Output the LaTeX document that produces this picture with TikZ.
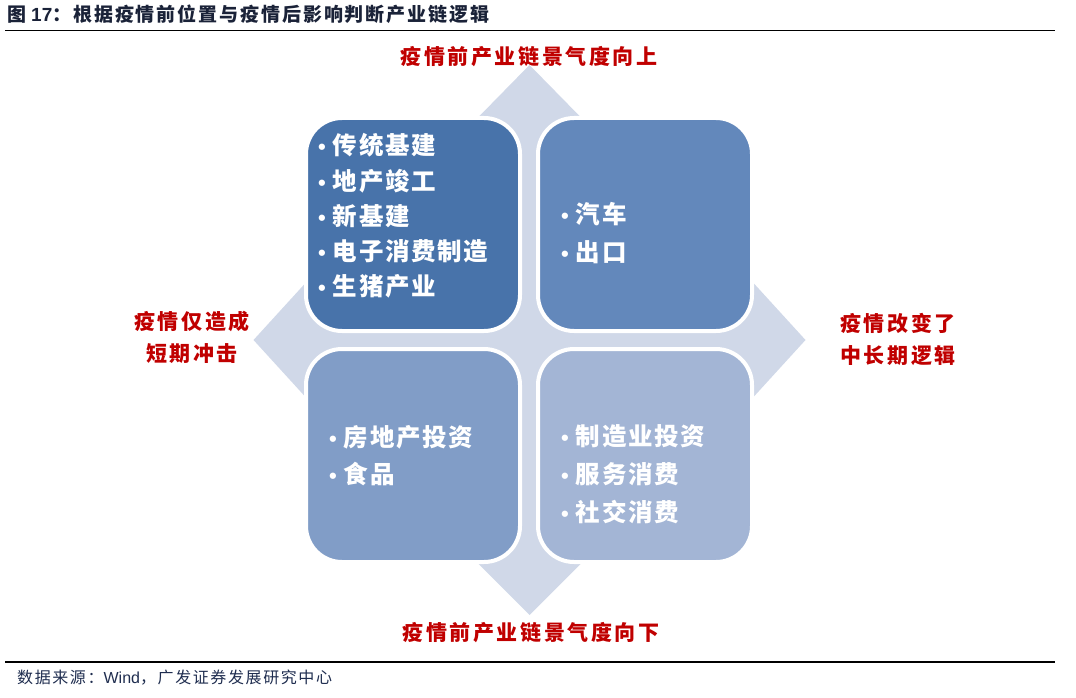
\documentclass[tikz,border=0pt]{standalone}
\usepackage{fontspec}
\setmainfont{Liberation Sans}
\newfontfamily\cjk{Noto Sans CJK SC}
\newfontfamily\cjktitle[LetterSpace=10]{Noto Sans CJK SC}
\newfontfamily\cjklab[LetterSpace=12]{Noto Sans CJK SC}
\newfontfamily\cjkbox[LetterSpace=7]{Noto Sans CJK SC}
\newfontfamily\cjkfoot[LetterSpace=10]{Noto Sans CJK SC}
\newfontfamily\bulfont{Liberation Sans}
\newcommand\bul{{\bulfont\fontsize{22}{22}\selectfont\textbullet}\hspace{7pt}}
\definecolor{bgarrow}{HTML}{D0D8E8}
\definecolor{boxA}{HTML}{4873AA}
\definecolor{boxB}{HTML}{6388BB}
\definecolor{boxC}{HTML}{819DC7}
\definecolor{boxD}{HTML}{A3B5D5}
\definecolor{labred}{HTML}{C00000}
\definecolor{titlecol}{HTML}{1A2238}
\definecolor{footcol}{HTML}{1F2D4F}
\tikzset{
  quad/.style={draw=white, line width=4pt, rounded corners=36pt,
    minimum width=214pt, minimum height=213pt, inner sep=0pt},
  boxtext/.style={anchor=west, align=left, text=white, inner sep=0pt,
    font=\cjkbox\bfseries\fontsize{24.5}{#1}\selectfont},
  redlab/.style={text=labred, align=center, inner sep=0pt,
    font=\cjklab\bfseries\fontsize{21}{32}\selectfont},
}
\begin{document}
\begin{tikzpicture}[x=1pt,y=-1pt]
\useasboundingbox (0,0) rectangle (1076,698);
% title
\node[anchor=west, inner sep=0pt, text=titlecol] (title) at (7,14)
  {\cjktitle\bfseries\fontsize{19}{19}\selectfont 图\hspace{5pt}{\bfseries\fontsize{19}{19}\selectfont\rmfamily 17}：根据疫情前位置与疫情后影响判断产业链逻辑};
\draw[line width=1.3pt] (5,30.5) -- (1055,30.5);
% background quad arrow
\fill[bgarrow] (529.5,65) -- (580.5,117) -- (580.5,283) -- (753.5,283) -- (805.5,340)
  -- (753.5,397) -- (580.5,397) -- (580.5,564) -- (529.5,615) -- (478.5,564)
  -- (478.5,397) -- (305.5,397) -- (253.5,340) -- (305.5,283) -- (478.5,283)
  -- (478.5,117) -- cycle;
% boxes
\node[quad, fill=boxA] (tl) at (413,224.5) {};
\node[quad, fill=boxB] (tr) at (645,224.5) {};
\node[quad, fill=boxC] (bl) at (413,455.5) {};
\node[quad, fill=boxD] (br) at (645,455.5) {};
% box texts
\node[boxtext=35.2] (tlt) at (318,216)
  {\bul 传统基建\\\bul 地产竣工\\\bul 新基建\\\bul 电子消费制造\\\bul 生猪产业};
\node[boxtext=38] (trt) at (561,233)
  {\bul 汽车\\\bul 出口};
\node[boxtext=37] (blt) at (329,456)
  {\bul 房地产投资\\\bul 食品};
\node[boxtext=38] (brt) at (561,474.5)
  {\bul 制造业投资\\\bul 服务消费\\\bul 社交消费};
% labels
\node[redlab] (up) at (529,57) {疫情前产业链景气度向上};
\node[redlab] (down) at (531,633) {疫情前产业链景气度向下};
\node[redlab] (left) at (192,337) {疫情仅造成\\短期冲击};
\node[redlab] (right) at (898,339) {疫情改变了\\中长期逻辑};
% footer
\draw[line width=1.2pt] (5,662) -- (1055,662);
\node[anchor=west, inner sep=0pt, text=footcol] (foot) at (17,678)
  {\cjkfoot\fontsize{16}{16}\selectfont 数据来源：{\rmfamily Wind}，广发证券发展研究中心};
\end{tikzpicture}
\end{document}
